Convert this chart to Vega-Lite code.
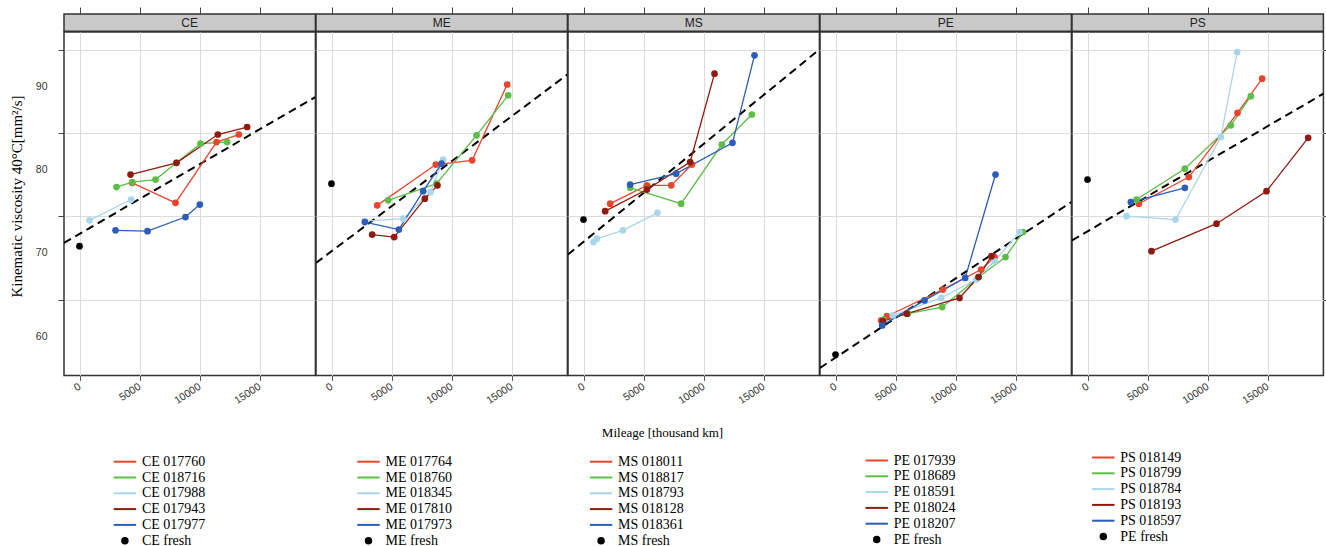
{
  "$schema": "https://vega.github.io/schema/vega-lite/v6.json",
  "background": "white",
  "padding": {"left": 8, "top": 5, "right": 0, "bottom": 0},
  "bounds": "flush",
  "spacing": 0,
  "columns": 5,
  "config": {"font": "Liberation Sans", "view": {"stroke": null}},
  "datasets": {
    "pts": [
      {"p":"CE","s":"CE fresh","x":0,"y":70.8},
      {"p":"CE","s":"CE 017760","x":4389,"y":78.4},{"p":"CE","s":"CE 017760","x":8000,"y":76.0},{"p":"CE","s":"CE 017760","x":11417,"y":83.3},{"p":"CE","s":"CE 017760","x":13278,"y":84.2},
      {"p":"CE","s":"CE 018716","x":3083,"y":77.9},{"p":"CE","s":"CE 018716","x":4400,"y":78.5},{"p":"CE","s":"CE 018716","x":6333,"y":78.8},{"p":"CE","s":"CE 018716","x":8083,"y":80.8},{"p":"CE","s":"CE 018716","x":10083,"y":83.1},{"p":"CE","s":"CE 018716","x":12306,"y":83.3},
      {"p":"CE","s":"CE 017988","x":833,"y":73.9},{"p":"CE","s":"CE 017988","x":4306,"y":76.4},
      {"p":"CE","s":"CE 017943","x":4250,"y":79.4},{"p":"CE","s":"CE 017943","x":8083,"y":80.8},{"p":"CE","s":"CE 017943","x":11528,"y":84.2},{"p":"CE","s":"CE 017943","x":13972,"y":85.1},
      {"p":"CE","s":"CE 017977","x":3000,"y":72.7},{"p":"CE","s":"CE 017977","x":5667,"y":72.6},{"p":"CE","s":"CE 017977","x":8833,"y":74.3},{"p":"CE","s":"CE 017977","x":10028,"y":75.8},
      {"p":"ME","s":"ME fresh","x":0,"y":78.3},
      {"p":"ME","s":"ME 017764","x":3806,"y":75.7},{"p":"ME","s":"ME 017764","x":8694,"y":80.6},{"p":"ME","s":"ME 017764","x":11722,"y":81.1},{"p":"ME","s":"ME 017764","x":14639,"y":90.2},
      {"p":"ME","s":"ME 018760","x":4722,"y":76.3},{"p":"ME","s":"ME 018760","x":8750,"y":78.3},{"p":"ME","s":"ME 018760","x":12083,"y":84.1},{"p":"ME","s":"ME 018760","x":14722,"y":88.9},
      {"p":"ME","s":"ME 018345","x":2778,"y":73.8},{"p":"ME","s":"ME 018345","x":5972,"y":74.1},{"p":"ME","s":"ME 018345","x":8250,"y":77.3},{"p":"ME","s":"ME 018345","x":9306,"y":81.2},
      {"p":"ME","s":"ME 017810","x":3389,"y":72.2},{"p":"ME","s":"ME 017810","x":5222,"y":71.9},{"p":"ME","s":"ME 017810","x":7778,"y":76.5},{"p":"ME","s":"ME 017810","x":8833,"y":78.1},
      {"p":"ME","s":"ME 017973","x":2778,"y":73.7},{"p":"ME","s":"ME 017973","x":5611,"y":72.8},{"p":"ME","s":"ME 017973","x":7639,"y":77.4},{"p":"ME","s":"ME 017973","x":9167,"y":80.7},
      {"p":"MS","s":"MS fresh","x":0,"y":74.0},
      {"p":"MS","s":"MS 018011","x":2222,"y":75.9},{"p":"MS","s":"MS 018011","x":5278,"y":78.1},{"p":"MS","s":"MS 018011","x":7306,"y":78.1},{"p":"MS","s":"MS 018011","x":9028,"y":80.6},
      {"p":"MS","s":"MS 018817","x":3889,"y":77.8},{"p":"MS","s":"MS 018817","x":8139,"y":75.9},{"p":"MS","s":"MS 018817","x":11528,"y":83.0},{"p":"MS","s":"MS 018817","x":14028,"y":86.6},
      {"p":"MS","s":"MS 018793","x":833,"y":71.3},{"p":"MS","s":"MS 018793","x":1111,"y":71.7},{"p":"MS","s":"MS 018793","x":3278,"y":72.7},{"p":"MS","s":"MS 018793","x":6167,"y":74.8},
      {"p":"MS","s":"MS 018128","x":1806,"y":75.0},{"p":"MS","s":"MS 018128","x":5278,"y":77.6},{"p":"MS","s":"MS 018128","x":8889,"y":80.9},{"p":"MS","s":"MS 018128","x":10917,"y":91.5},
      {"p":"MS","s":"MS 018361","x":3889,"y":78.2},{"p":"MS","s":"MS 018361","x":7722,"y":79.5},{"p":"MS","s":"MS 018361","x":12417,"y":83.2},{"p":"MS","s":"MS 018361","x":14250,"y":93.7},
      {"p":"PE","s":"PE fresh","x":0,"y":57.8},
      {"p":"PE","s":"PE 017939","x":3806,"y":61.9},{"p":"PE","s":"PE 017939","x":4278,"y":62.4},{"p":"PE","s":"PE 017939","x":8944,"y":65.6},{"p":"PE","s":"PE 017939","x":12139,"y":68.0},{"p":"PE","s":"PE 017939","x":13250,"y":69.5},
      {"p":"PE","s":"PE 018689","x":4000,"y":62.0},{"p":"PE","s":"PE 018689","x":6028,"y":62.7},{"p":"PE","s":"PE 018689","x":8889,"y":63.5},{"p":"PE","s":"PE 018689","x":11944,"y":67.1},{"p":"PE","s":"PE 018689","x":14167,"y":69.5},{"p":"PE","s":"PE 018689","x":15611,"y":72.5},
      {"p":"PE","s":"PE 018591","x":4778,"y":62.5},{"p":"PE","s":"PE 018591","x":8806,"y":64.6},{"p":"PE","s":"PE 018591","x":11722,"y":66.8},{"p":"PE","s":"PE 018591","x":13250,"y":69.0},{"p":"PE","s":"PE 018591","x":15333,"y":72.5},
      {"p":"PE","s":"PE 018024","x":3944,"y":61.8},{"p":"PE","s":"PE 018024","x":5944,"y":62.7},{"p":"PE","s":"PE 018024","x":10333,"y":64.6},{"p":"PE","s":"PE 018024","x":11917,"y":67.1},{"p":"PE","s":"PE 018024","x":13000,"y":69.6},
      {"p":"PE","s":"PE 018207","x":3889,"y":61.3},{"p":"PE","s":"PE 018207","x":7417,"y":64.3},{"p":"PE","s":"PE 018207","x":10806,"y":67.0},{"p":"PE","s":"PE 018207","x":13333,"y":79.4},
      {"p":"PS","s":"PE fresh","x":0,"y":78.8},
      {"p":"PS","s":"PS 018149","x":4278,"y":75.9},{"p":"PS","s":"PS 018149","x":8444,"y":79.1},{"p":"PS","s":"PS 018149","x":12500,"y":86.8},{"p":"PS","s":"PS 018149","x":14556,"y":90.9},
      {"p":"PS","s":"PS 018799","x":4083,"y":76.4},{"p":"PS","s":"PS 018799","x":8111,"y":80.1},{"p":"PS","s":"PS 018799","x":11944,"y":85.3},{"p":"PS","s":"PS 018799","x":13611,"y":88.8},
      {"p":"PS","s":"PS 018784","x":3250,"y":74.4},{"p":"PS","s":"PS 018784","x":7333,"y":74.0},{"p":"PS","s":"PS 018784","x":11111,"y":83.9},{"p":"PS","s":"PS 018784","x":12472,"y":94.1},
      {"p":"PS","s":"PS 018193","x":5333,"y":70.2},{"p":"PS","s":"PS 018193","x":10750,"y":73.5},{"p":"PS","s":"PS 018193","x":14917,"y":77.4},{"p":"PS","s":"PS 018193","x":18389,"y":83.8},
      {"p":"PS","s":"PS 018597","x":3611,"y":76.1},{"p":"PS","s":"PS 018597","x":8111,"y":77.8}
    ],
    "fit": [
      {"p":"CE","x":-1292,"y":71.2},{"p":"CE","x":19658,"y":88.7},
      {"p":"ME","x":-1292,"y":68.8},{"p":"ME","x":19658,"y":91.4},
      {"p":"MS","x":-1292,"y":69.8},{"p":"MS","x":19658,"y":94.4},
      {"p":"PE","x":-1292,"y":56.2},{"p":"PE","x":19658,"y":76.1},
      {"p":"PS","x":-1292,"y":71.5},{"p":"PS","x":19658,"y":89.1}
    ],
    "strips": [{"label":"CE"},{"label":"ME"},{"label":"MS"},{"label":"PE"},{"label":"PS"}]
  },
  "concat": [
    {"width": 251.4, "height": 17.3, "view": {"fill": "#c9c9c9", "stroke": "#333333", "strokeWidth": 1.5},
     "data": {"name": "strips"}, "transform": [{"filter": "datum.label === 'CE'"}],
     "mark": {"type": "text", "fontSize": 12, "color": "#222222", "baseline": "middle"},
     "encoding": {"x": {"datum": 9183, "type": "quantitative", "scale": {"domain": [-1292, 19658], "nice": false, "zero": false}, "axis": {"orient": "top", "values": [0,5000,10000,15000], "labels": false, "domain": false, "grid": false, "ticks": true, "tickSize": 7, "tickColor": "#444444", "title": null}}, "text": {"field": "label"}}},
    {"width": 251.4, "height": 17.3, "view": {"fill": "#c9c9c9", "stroke": "#333333", "strokeWidth": 1.5},
     "data": {"name": "strips"}, "transform": [{"filter": "datum.label === 'ME'"}],
     "mark": {"type": "text", "fontSize": 12, "color": "#222222", "baseline": "middle"},
     "encoding": {"x": {"datum": 9183, "type": "quantitative", "scale": {"domain": [-1292, 19658], "nice": false, "zero": false}, "axis": {"orient": "top", "values": [0,5000,10000,15000], "labels": false, "domain": false, "grid": false, "ticks": true, "tickSize": 7, "tickColor": "#444444", "title": null}}, "text": {"field": "label"}}},
    {"width": 251.4, "height": 17.3, "view": {"fill": "#c9c9c9", "stroke": "#333333", "strokeWidth": 1.5},
     "data": {"name": "strips"}, "transform": [{"filter": "datum.label === 'MS'"}],
     "mark": {"type": "text", "fontSize": 12, "color": "#222222", "baseline": "middle"},
     "encoding": {"x": {"datum": 9183, "type": "quantitative", "scale": {"domain": [-1292, 19658], "nice": false, "zero": false}, "axis": {"orient": "top", "values": [0,5000,10000,15000], "labels": false, "domain": false, "grid": false, "ticks": true, "tickSize": 7, "tickColor": "#444444", "title": null}}, "text": {"field": "label"}}},
    {"width": 251.4, "height": 17.3, "view": {"fill": "#c9c9c9", "stroke": "#333333", "strokeWidth": 1.5},
     "data": {"name": "strips"}, "transform": [{"filter": "datum.label === 'PE'"}],
     "mark": {"type": "text", "fontSize": 12, "color": "#222222", "baseline": "middle"},
     "encoding": {"x": {"datum": 9183, "type": "quantitative", "scale": {"domain": [-1292, 19658], "nice": false, "zero": false}, "axis": {"orient": "top", "values": [0,5000,10000,15000], "labels": false, "domain": false, "grid": false, "ticks": true, "tickSize": 7, "tickColor": "#444444", "title": null}}, "text": {"field": "label"}}},
    {"width": 251.4, "height": 17.3, "view": {"fill": "#c9c9c9", "stroke": "#333333", "strokeWidth": 1.5},
     "data": {"name": "strips"}, "transform": [{"filter": "datum.label === 'PS'"}],
     "mark": {"type": "text", "fontSize": 12, "color": "#222222", "baseline": "middle"},
     "encoding": {"x": {"datum": 9183, "type": "quantitative", "scale": {"domain": [-1292, 19658], "nice": false, "zero": false}, "axis": {"orient": "top", "values": [0,5000,10000,15000], "labels": false, "domain": false, "grid": false, "ticks": true, "tickSize": 7, "tickColor": "#444444", "title": null}}, "text": {"field": "label"}}},

    {"width": 251.4, "height": 343.4, "view": {"stroke": "#333333", "strokeWidth": 1.5},
     "layer": [
       {"data": {"name": "fit"}, "transform": [{"filter": "datum.p === 'CE'"}],
        "mark": {"type": "line", "color": "black", "strokeDash": [8,5], "strokeWidth": 2, "clip": true},
        "encoding": {
          "x": {"field": "x", "type": "quantitative", "scale": {"domain": [-1292, 19658], "nice": false, "zero": false},
                "axis": {"orient": "bottom", "values": [0,5000,10000,15000], "format": "d", "grid": true, "gridColor": "#dcdcdc", "domain": false, "ticks": true, "tickSize": 5, "tickColor": "#555555", "labelAngle": -33, "labelAlign": "right", "labelBaseline": "middle", "labelPadding": 5, "labelFontSize": 10.5, "labelColor": "#333333", "labelFlush": false, "labelOverlap": false, "title": null}},
          "y": {"field": "y", "type": "quantitative", "scale": {"domain": [55.3, 96.5], "nice": false, "zero": false},
                "axis": {"orient": "left", "values": [64.4,74.4,84.4,94.4], "grid": true, "gridColor": "#dcdcdc", "labels": false, "domain": false, "ticks": true, "tickSize": 6, "tickColor": "#444444", "title": null}}
        }},
       {"data": {"name": "pts"}, "transform": [{"filter": "datum.p === 'CE' && indexof(datum.s, 'fresh') < 0"}],
        "mark": {"type": "line", "strokeWidth": 1.3},
        "encoding": {
          "x": {"field": "x", "type": "quantitative"},
          "y": {"field": "y", "type": "quantitative",
                "axis": {"orient": "left", "values": [60,70,80,90], "grid": false, "ticks": false, "tickSize": 0, "domain": false, "labels": true, "labelPadding": 17, "labelFontSize": 10.5, "labelColor": "#333333",
                         "title": "Kinematic viscosity 40°C[mm²/s]", "titleFont": "Liberation Serif", "titleFontSize": 15, "titleFontWeight": "normal", "titleColor": "black", "titleAngle": 270, "titleBaseline": "bottom", "titleAlign": "center", "titleX": -40, "titleY": 164}},
          "color": {"field": "s", "type": "nominal",
                    "scale": {"domain": ["CE 017760","CE 018716","CE 017988","CE 017943","CE 017977","CE fresh"], "range": ["#e8452c","#5cbd47","#a9d6ea","#8e1b0f","#2d5db9","#000000"]},
                    "legend": {"orient": "none", "legendX": 52.9, "legendY": 421.7, "title": null, "padding": 0, "direction": "vertical", "labelFont": "Liberation Serif", "labelFontSize": 14, "labelColor": "#000000", "labelOffset": 9, "rowPadding": 0.8, "symbolSize": 196, "labelLimit": 200,
                               "encode": {"symbols": {"update": {"shape": {"signal": "datum.index === 5 ? 'circle' : 'M-1.6,0H1.6'"}, "size": {"signal": "datum.index === 5 ? 30 : 196"}, "fill": {"signal": "datum.index === 5 ? '#000000' : 'transparent'"}, "stroke": {"signal": "datum.index === 5 ? 'transparent' : ['#e8452c','#5cbd47','#a9d6ea','#8e1b0f','#2d5db9'][datum.index]"}, "strokeWidth": {"value": 2}, "opacity": {"value": 1}}}}}}
        }},
       {"data": {"name": "pts"}, "transform": [{"filter": "datum.p === 'CE'"}],
        "mark": {"type": "point", "filled": true, "size": 45, "opacity": 1},
        "encoding": {"x": {"field": "x", "type": "quantitative"}, "y": {"field": "y", "type": "quantitative", "axis": null}, "color": {"field": "s", "type": "nominal"}}}
     ],
     "resolve": {"axis": {"y": "independent"}}},

    {"width": 251.4, "height": 343.4, "view": {"stroke": "#333333", "strokeWidth": 1.5},
     "layer": [
       {"data": {"name": "fit"}, "transform": [{"filter": "datum.p === 'ME'"}],
        "mark": {"type": "line", "color": "black", "strokeDash": [8,5], "strokeWidth": 2, "clip": true},
        "encoding": {
          "x": {"field": "x", "type": "quantitative", "scale": {"domain": [-1292, 19658], "nice": false, "zero": false},
                "axis": {"orient": "bottom", "values": [0,5000,10000,15000], "format": "d", "grid": true, "gridColor": "#dcdcdc", "domain": false, "ticks": true, "tickSize": 5, "tickColor": "#555555", "labelAngle": -33, "labelAlign": "right", "labelBaseline": "middle", "labelPadding": 5, "labelFontSize": 10.5, "labelColor": "#333333", "labelFlush": false, "labelOverlap": false, "title": null}},
          "y": {"field": "y", "type": "quantitative", "scale": {"domain": [55.3, 96.5], "nice": false, "zero": false},
                "axis": {"orient": "left", "values": [64.4,74.4,84.4,94.4], "grid": true, "gridColor": "#dcdcdc", "labels": false, "domain": false, "ticks": false, "title": null}}
        }},
       {"data": {"name": "pts"}, "transform": [{"filter": "datum.p === 'ME' && indexof(datum.s, 'fresh') < 0"}],
        "mark": {"type": "line", "strokeWidth": 1.3},
        "encoding": {
          "x": {"field": "x", "type": "quantitative"},
          "y": {"field": "y", "type": "quantitative", "axis": null},
          "color": {"field": "s", "type": "nominal",
                    "scale": {"domain": ["ME 017764","ME 018760","ME 018345","ME 017810","ME 017973","ME fresh"], "range": ["#e8452c","#5cbd47","#a9d6ea","#8e1b0f","#2d5db9","#000000"]},
                    "legend": {"orient": "none", "legendX": 44.5, "legendY": 421.7, "title": null, "padding": 0, "direction": "vertical", "labelFont": "Liberation Serif", "labelFontSize": 14, "labelColor": "#000000", "labelOffset": 9, "rowPadding": 0.8, "symbolSize": 196, "labelLimit": 200,
                               "encode": {"symbols": {"update": {"shape": {"signal": "datum.index === 5 ? 'circle' : 'M-1.6,0H1.6'"}, "size": {"signal": "datum.index === 5 ? 30 : 196"}, "fill": {"signal": "datum.index === 5 ? '#000000' : 'transparent'"}, "stroke": {"signal": "datum.index === 5 ? 'transparent' : ['#e8452c','#5cbd47','#a9d6ea','#8e1b0f','#2d5db9'][datum.index]"}, "strokeWidth": {"value": 2}, "opacity": {"value": 1}}}}}}
        }},
       {"data": {"name": "pts"}, "transform": [{"filter": "datum.p === 'ME'"}],
        "mark": {"type": "point", "filled": true, "size": 45, "opacity": 1},
        "encoding": {"x": {"field": "x", "type": "quantitative"}, "y": {"field": "y", "type": "quantitative", "axis": null}, "color": {"field": "s", "type": "nominal"}}}
     ],
     "resolve": {"axis": {"y": "independent"}}},

    {"width": 251.4, "height": 343.4, "view": {"stroke": "#333333", "strokeWidth": 1.5},
     "layer": [
       {"data": {"name": "fit"}, "transform": [{"filter": "datum.p === 'MS'"}],
        "mark": {"type": "line", "color": "black", "strokeDash": [8,5], "strokeWidth": 2, "clip": true},
        "encoding": {
          "x": {"field": "x", "type": "quantitative", "scale": {"domain": [-1292, 19658], "nice": false, "zero": false},
                "axis": {"orient": "bottom", "values": [0,5000,10000,15000], "format": "d", "grid": true, "gridColor": "#dcdcdc", "domain": false, "ticks": true, "tickSize": 5, "tickColor": "#555555", "labelAngle": -33, "labelAlign": "right", "labelBaseline": "middle", "labelPadding": 5, "labelFontSize": 10.5, "labelColor": "#333333", "labelFlush": false, "labelOverlap": false,
                         "title": "Mileage [thousand km]", "titleFont": "Liberation Serif", "titleFontSize": 13, "titleFontWeight": "normal", "titleColor": "black", "titleBaseline": "middle", "titleX": 94, "titleY": 57}},
          "y": {"field": "y", "type": "quantitative", "scale": {"domain": [55.3, 96.5], "nice": false, "zero": false},
                "axis": {"orient": "left", "values": [64.4,74.4,84.4,94.4], "grid": true, "gridColor": "#dcdcdc", "labels": false, "domain": false, "ticks": false, "title": null}}
        }},
       {"data": {"name": "pts"}, "transform": [{"filter": "datum.p === 'MS' && indexof(datum.s, 'fresh') < 0"}],
        "mark": {"type": "line", "strokeWidth": 1.3},
        "encoding": {
          "x": {"field": "x", "type": "quantitative"},
          "y": {"field": "y", "type": "quantitative", "axis": null},
          "color": {"field": "s", "type": "nominal",
                    "scale": {"domain": ["MS 018011","MS 018817","MS 018793","MS 018128","MS 018361","MS fresh"], "range": ["#e8452c","#5cbd47","#a9d6ea","#8e1b0f","#2d5db9","#000000"]},
                    "legend": {"orient": "none", "legendX": 25.1, "legendY": 421.7, "title": null, "padding": 0, "direction": "vertical", "labelFont": "Liberation Serif", "labelFontSize": 14, "labelColor": "#000000", "labelOffset": 9, "rowPadding": 0.8, "symbolSize": 196, "labelLimit": 200,
                               "encode": {"symbols": {"update": {"shape": {"signal": "datum.index === 5 ? 'circle' : 'M-1.6,0H1.6'"}, "size": {"signal": "datum.index === 5 ? 30 : 196"}, "fill": {"signal": "datum.index === 5 ? '#000000' : 'transparent'"}, "stroke": {"signal": "datum.index === 5 ? 'transparent' : ['#e8452c','#5cbd47','#a9d6ea','#8e1b0f','#2d5db9'][datum.index]"}, "strokeWidth": {"value": 2}, "opacity": {"value": 1}}}}}}
        }},
       {"data": {"name": "pts"}, "transform": [{"filter": "datum.p === 'MS'"}],
        "mark": {"type": "point", "filled": true, "size": 45, "opacity": 1},
        "encoding": {"x": {"field": "x", "type": "quantitative"}, "y": {"field": "y", "type": "quantitative", "axis": null}, "color": {"field": "s", "type": "nominal"}}}
     ],
     "resolve": {"axis": {"y": "independent"}}},

    {"width": 251.4, "height": 343.4, "view": {"stroke": "#333333", "strokeWidth": 1.5},
     "layer": [
       {"data": {"name": "fit"}, "transform": [{"filter": "datum.p === 'PE'"}],
        "mark": {"type": "line", "color": "black", "strokeDash": [8,5], "strokeWidth": 2, "clip": true},
        "encoding": {
          "x": {"field": "x", "type": "quantitative", "scale": {"domain": [-1292, 19658], "nice": false, "zero": false},
                "axis": {"orient": "bottom", "values": [0,5000,10000,15000], "format": "d", "grid": true, "gridColor": "#dcdcdc", "domain": false, "ticks": true, "tickSize": 5, "tickColor": "#555555", "labelAngle": -33, "labelAlign": "right", "labelBaseline": "middle", "labelPadding": 5, "labelFontSize": 10.5, "labelColor": "#333333", "labelFlush": false, "labelOverlap": false, "title": null}},
          "y": {"field": "y", "type": "quantitative", "scale": {"domain": [55.3, 96.5], "nice": false, "zero": false},
                "axis": {"orient": "left", "values": [64.4,74.4,84.4,94.4], "grid": true, "gridColor": "#dcdcdc", "labels": false, "domain": false, "ticks": false, "title": null}}
        }},
       {"data": {"name": "pts"}, "transform": [{"filter": "datum.p === 'PE' && indexof(datum.s, 'fresh') < 0"}],
        "mark": {"type": "line", "strokeWidth": 1.3},
        "encoding": {
          "x": {"field": "x", "type": "quantitative"},
          "y": {"field": "y", "type": "quantitative", "axis": null},
          "color": {"field": "s", "type": "nominal",
                    "scale": {"domain": ["PE 017939","PE 018689","PE 018591","PE 018024","PE 018207","PE fresh"], "range": ["#e8452c","#5cbd47","#a9d6ea","#8e1b0f","#2d5db9","#000000"]},
                    "legend": {"orient": "none", "legendX": 48.7, "legendY": 420.5, "title": null, "padding": 0, "direction": "vertical", "labelFont": "Liberation Serif", "labelFontSize": 14, "labelColor": "#000000", "labelOffset": 9, "rowPadding": 0.8, "symbolSize": 196, "labelLimit": 200,
                               "encode": {"symbols": {"update": {"shape": {"signal": "datum.index === 5 ? 'circle' : 'M-1.6,0H1.6'"}, "size": {"signal": "datum.index === 5 ? 30 : 196"}, "fill": {"signal": "datum.index === 5 ? '#000000' : 'transparent'"}, "stroke": {"signal": "datum.index === 5 ? 'transparent' : ['#e8452c','#5cbd47','#a9d6ea','#8e1b0f','#2d5db9'][datum.index]"}, "strokeWidth": {"value": 2}, "opacity": {"value": 1}}}}}}
        }},
       {"data": {"name": "pts"}, "transform": [{"filter": "datum.p === 'PE'"}],
        "mark": {"type": "point", "filled": true, "size": 45, "opacity": 1},
        "encoding": {"x": {"field": "x", "type": "quantitative"}, "y": {"field": "y", "type": "quantitative", "axis": null}, "color": {"field": "s", "type": "nominal"}}}
     ],
     "resolve": {"axis": {"y": "independent"}}},

    {"width": 251.4, "height": 343.4, "view": {"stroke": "#333333", "strokeWidth": 1.5},
     "layer": [
       {"data": {"name": "fit"}, "transform": [{"filter": "datum.p === 'PS'"}],
        "mark": {"type": "line", "color": "black", "strokeDash": [8,5], "strokeWidth": 2, "clip": true},
        "encoding": {
          "x": {"field": "x", "type": "quantitative", "scale": {"domain": [-1292, 19658], "nice": false, "zero": false},
                "axis": {"orient": "bottom", "values": [0,5000,10000,15000], "format": "d", "grid": true, "gridColor": "#dcdcdc", "domain": false, "ticks": true, "tickSize": 5, "tickColor": "#555555", "labelAngle": -33, "labelAlign": "right", "labelBaseline": "middle", "labelPadding": 5, "labelFontSize": 10.5, "labelColor": "#333333", "labelFlush": false, "labelOverlap": false, "title": null}},
          "y": {"field": "y", "type": "quantitative", "scale": {"domain": [55.3, 96.5], "nice": false, "zero": false},
                "axis": {"orient": "right", "values": [64.4,74.4,84.4,94.4], "grid": true, "gridColor": "#dcdcdc", "labels": false, "domain": false, "ticks": true, "tickSize": 5, "tickColor": "#444444", "title": null}}
        }},
       {"data": {"name": "pts"}, "transform": [{"filter": "datum.p === 'PS' && indexof(datum.s, 'fresh') < 0"}],
        "mark": {"type": "line", "strokeWidth": 1.3},
        "encoding": {
          "x": {"field": "x", "type": "quantitative"},
          "y": {"field": "y", "type": "quantitative", "axis": null},
          "color": {"field": "s", "type": "nominal",
                    "scale": {"domain": ["PS 018149","PS 018799","PS 018784","PS 018193","PS 018597","PE fresh"], "range": ["#e8452c","#5cbd47","#a9d6ea","#8e1b0f","#2d5db9","#000000"]},
                    "legend": {"orient": "none", "legendX": 23.3, "legendY": 417.5, "title": null, "padding": 0, "direction": "vertical", "labelFont": "Liberation Serif", "labelFontSize": 14, "labelColor": "#000000", "labelOffset": 9, "rowPadding": 0.8, "symbolSize": 196, "labelLimit": 200,
                               "encode": {"symbols": {"update": {"shape": {"signal": "datum.index === 5 ? 'circle' : 'M-1.6,0H1.6'"}, "size": {"signal": "datum.index === 5 ? 30 : 196"}, "fill": {"signal": "datum.index === 5 ? '#000000' : 'transparent'"}, "stroke": {"signal": "datum.index === 5 ? 'transparent' : ['#e8452c','#5cbd47','#a9d6ea','#8e1b0f','#2d5db9'][datum.index]"}, "strokeWidth": {"value": 2}, "opacity": {"value": 1}}}}}}
        }},
       {"data": {"name": "pts"}, "transform": [{"filter": "datum.p === 'PS'"}],
        "mark": {"type": "point", "filled": true, "size": 45, "opacity": 1},
        "encoding": {"x": {"field": "x", "type": "quantitative"}, "y": {"field": "y", "type": "quantitative", "axis": null}, "color": {"field": "s", "type": "nominal"}}}
     ],
     "resolve": {"axis": {"y": "independent"}}}
  ],
  "resolve": {"scale": {"x": "independent", "y": "independent", "color": "independent"}, "legend": {"color": "independent"}, "axis": {"x": "independent", "y": "independent"}}
}
